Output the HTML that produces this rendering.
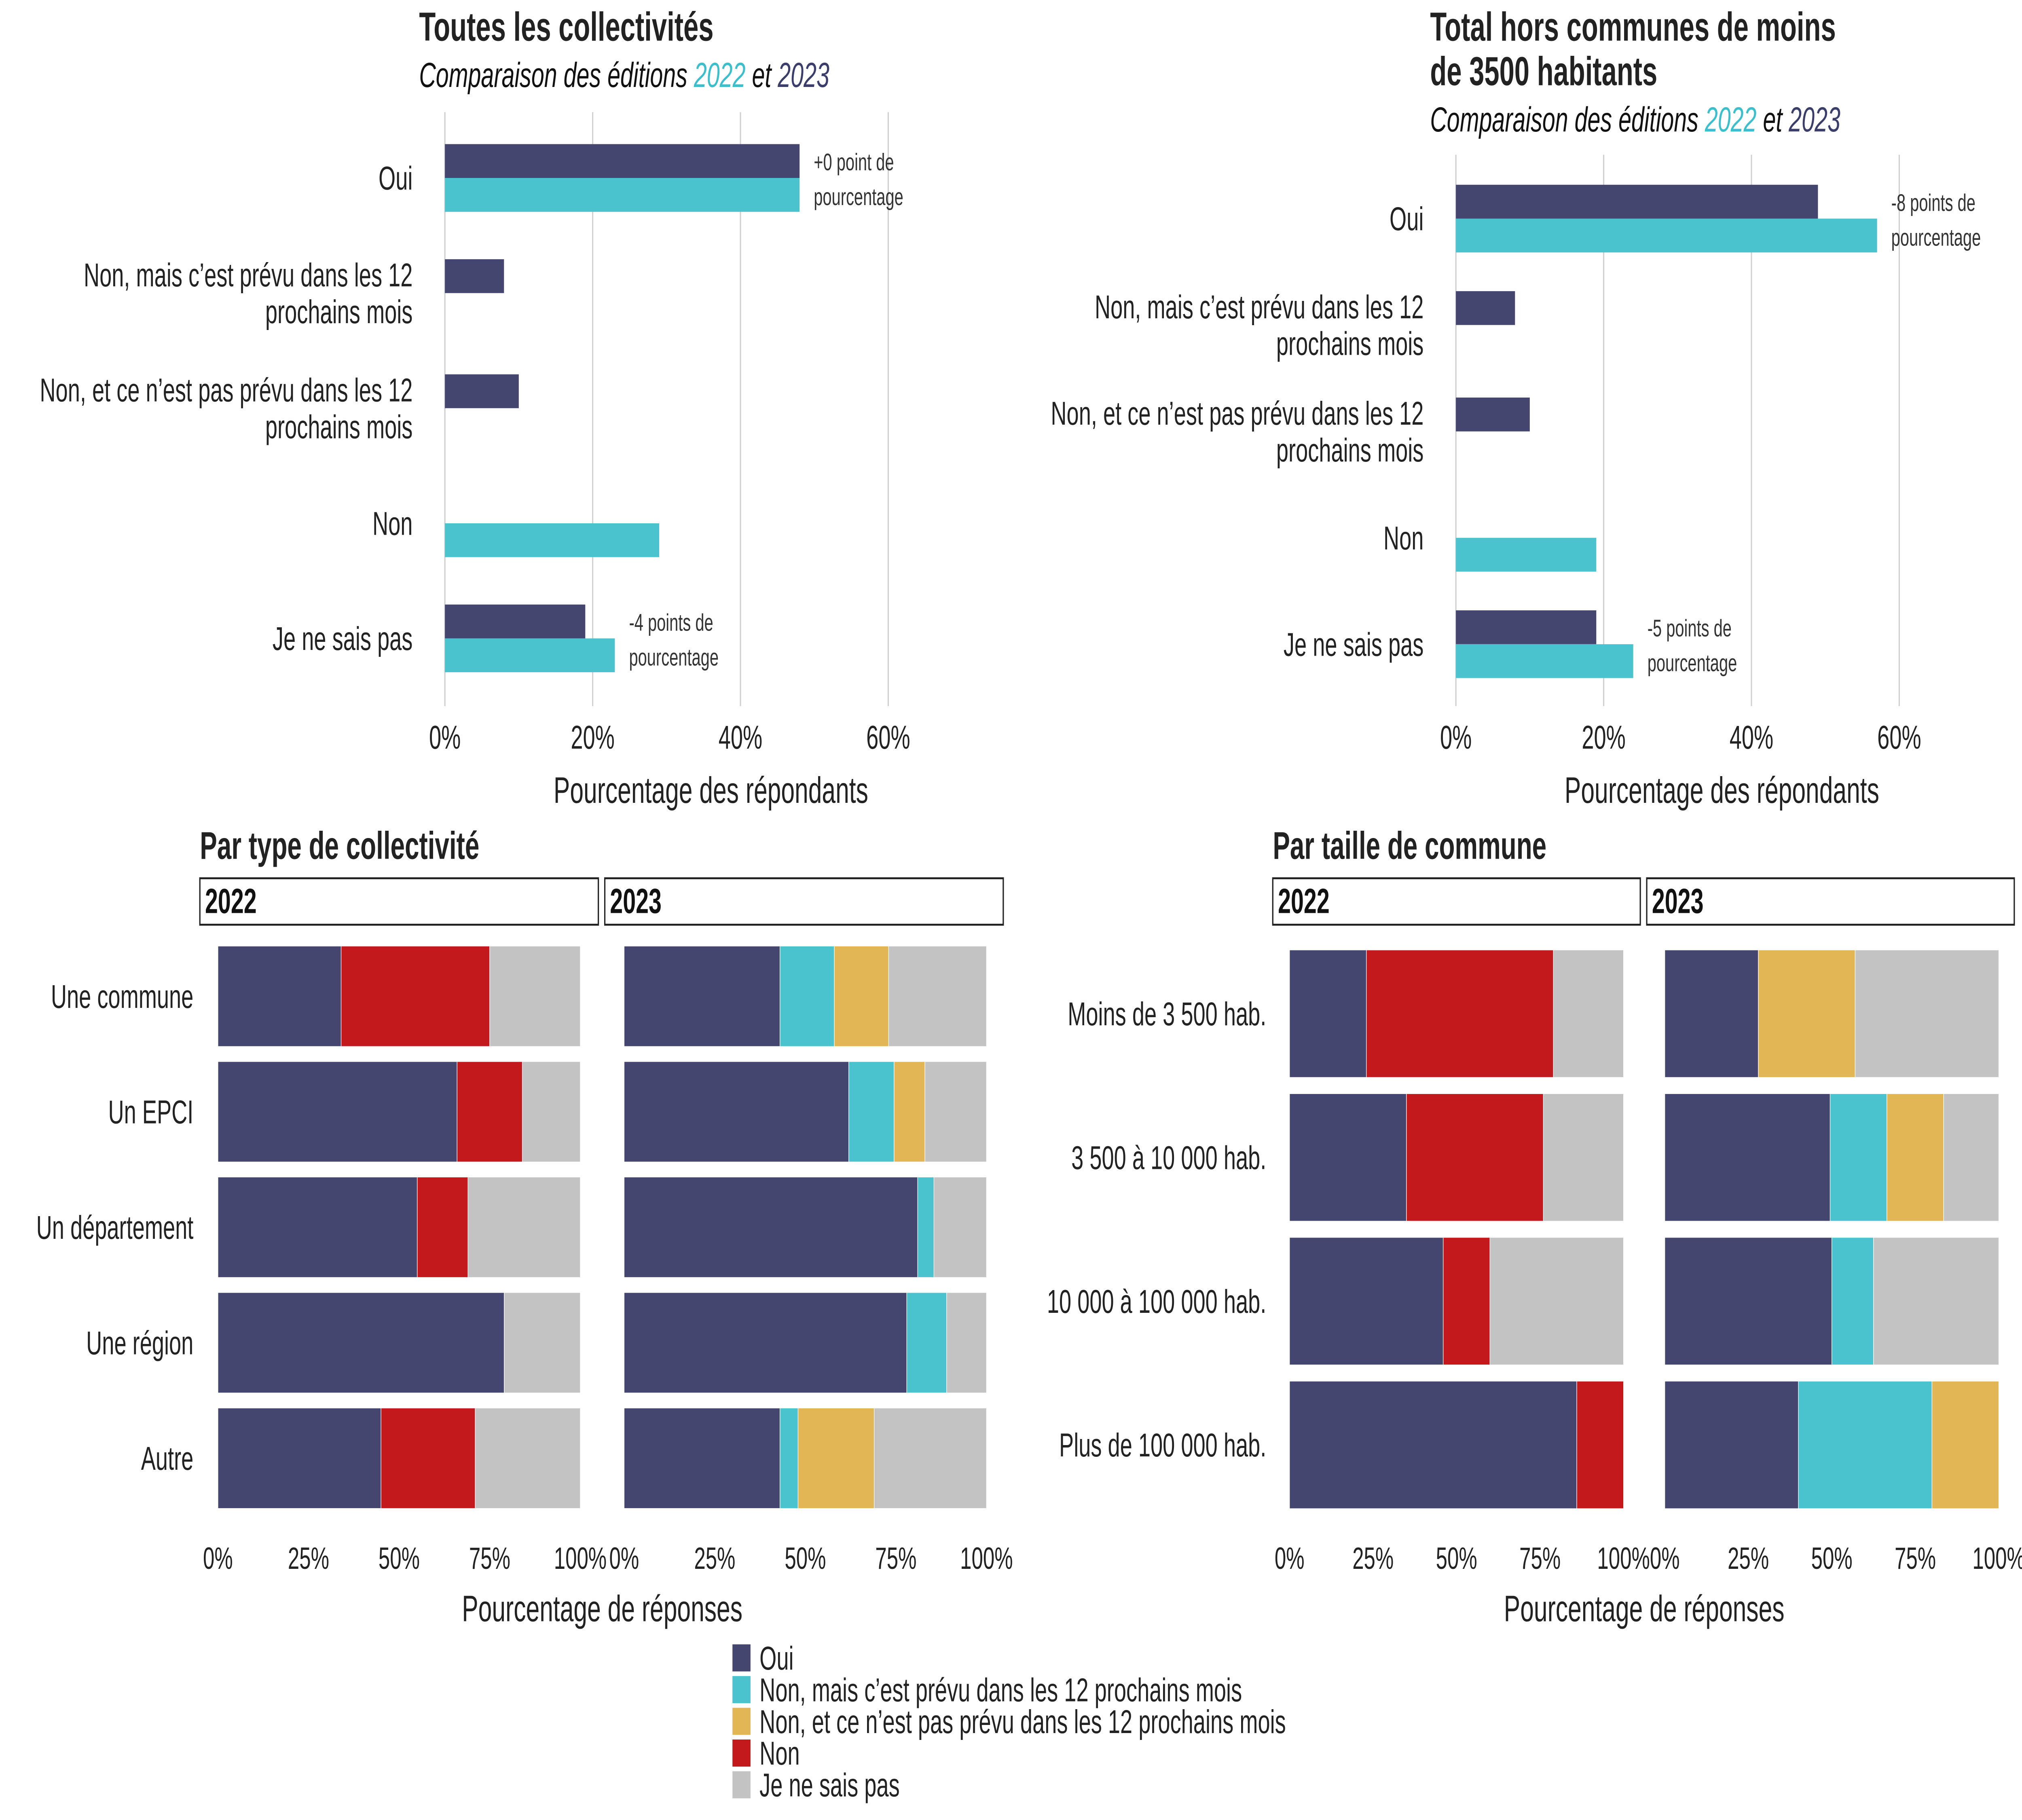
<!DOCTYPE html>
<html><head><meta charset="utf-8"><style>
html,body{margin:0;padding:0;background:#fff;width:100%;height:100%;overflow:hidden;}
svg{display:block;width:100vw;height:100vh;font-family:"Liberation Sans","DejaVu Sans",sans-serif;}
</style></head><body>
<svg id="chart" viewBox="0 0 1568 940.8" preserveAspectRatio="none" xmlns="http://www.w3.org/2000/svg">
<rect width="1568" height="941" fill="#fff"/>
<text x="325" y="21" font-size="21" font-weight="bold" fill="#222">Toutes les collectivités</text>
<text x="325" y="45" font-size="18" font-style="italic" fill="#111">Comparaison des éditions <tspan fill="#3cbfcc">2022</tspan> et <tspan fill="#3b3d6b">2023</tspan></text>
<text x="1109" y="21" font-size="21" font-weight="bold" fill="#222">Total hors communes de moins</text>
<text x="1109" y="44" font-size="21" font-weight="bold" fill="#222">de 3500 habitants</text>
<text x="1109" y="68" font-size="18" font-style="italic" fill="#111">Comparaison des éditions <tspan fill="#3cbfcc">2022</tspan> et <tspan fill="#3b3d6b">2023</tspan></text>
<text x="155" y="444" font-size="20" font-weight="bold" fill="#222">Par type de collectivité</text>
<text x="987" y="444" font-size="20" font-weight="bold" fill="#222">Par taille de commune</text>
<g id="g"></g>
</svg>
<script>
const topCats=["Oui","Non, mais c’est prévu dans les 12|prochains mois","Non, et ce n’est pas prévu dans les 12|prochains mois","Non","Je ne sais pas"];
const topA2023=[48,8,10,null,19];
const topA2022=[48,null,null,29,23];
const topB2023=[49,8,10,null,19];
const topB2022=[57,null,null,19,24];
const topTicks=["0%","20%","40%","60%"];
const typeCats=["Une commune","Un EPCI","Un département","Une région","Autre"];
const tailleCats=["Moins de 3 500 hab.","3 500 à 10 000 hab.","10 000 à 100 000 hab.","Plus de 100 000 hab."];
const seriesNames=["Oui","Non, mais c’est prévu dans les 12 prochains mois","Non, et ce n’est pas prévu dans les 12 prochains mois","Non","Je ne sais pas"];
const type2022=[[34,0,0,41,25],[66,0,0,18,16],[55,0,0,14,31],[79,0,0,0,21],[45,0,0,26,29]];
const type2023=[[43,15,15,0,27],[62,12.5,8.5,0,17],[81,4.5,0,0,14.5],[78,11,0,0,11],[43,5,21,0,31]];
const taille2022=[[23,0,0,56,21],[35,0,0,41,24],[46,0,0,14,40],[86,0,0,14,0]];
const taille2023=[[28,0,29,0,43],[49.5,17,17,0,16.5],[50,12.5,0,0,37.5],[40,40,20,0,0]];
const pctTicks=["0%","25%","50%","75%","100%"];
const colors=["#45466f","#4ac3cf","#e3b655","#c4191c","#c3c3c3"];
const NS="http://www.w3.org/2000/svg";
const G=document.getElementById("g");
function el(t,a,txt){const e=document.createElementNS(NS,t);for(const k in a)e.setAttribute(k,a[k]);if(txt!=null)e.textContent=txt;G.appendChild(e);return e;}

function topChart(x0,pxPer,yTop,yBot,cy0,pitch,d23,d22,notes,key){
  [0,20,40,60].forEach((v,i)=>{
    const x=x0+v*pxPer;
    const l=el("line",{x1:x,x2:x,y1:yTop,y2:yBot,stroke:"#d0d0d0","stroke-width":1});
    
    
    const t=el("text",{x:x,y:yBot+22,"font-size":17,"text-anchor":"middle",fill:"#222"},topTicks[i]);
    
    
  });
  const at=el("text",{x:x0+36*pxPer,y:yBot+50,"font-size":19,"text-anchor":"middle",fill:"#222"},"Pourcentage des répondants");
  
  
  topCats.forEach((c,i)=>{
    const cy=cy0+i*pitch;
    const lines=c.split("|");
    lines.forEach((ln,j)=>{
      const t=el("text",{x:x0-25,y:cy+6+(j-(lines.length-1)/2)*19,"font-size":17,"text-anchor":"end",fill:"#222"},ln);
      
      
    });
    if(d23[i]!=null){const r=el("rect",{x:x0,y:cy-17.5,width:d23[i]*pxPer,height:17.5,fill:colors[0]});
      
      }
    if(d22[i]!=null){const r=el("rect",{x:x0,y:cy,width:d22[i]*pxPer,height:17.5,fill:colors[1]});
      
      }
  });
  notes.forEach(n=>{
    const cy=cy0+n[0]*pitch;
    const mx=Math.max(d23[n[0]]||0,d22[n[0]]||0);
    const x=x0+mx*pxPer+11;
    const t1=el("text",{x:x,y:cy-4,"font-size":12.5,fill:"#333"},n[1]);
    
    
    const t2=el("text",{x:x,y:cy+14,"font-size":12.5,fill:"#333"},"pourcentage");
    
    
  });
}
topChart(345,5.73,58,365,92,59.5,topA2023,topA2022,[[0,"+0 point de"],[4,"-4 points de"]],"all");
topChart(1129,5.73,80,365,113,55,topB2023,topB2022,[[0,"-8 points de"],[4,"-5 points de"]],"hors");

function stacked(panels,cats,rowTop,pitch,h,labelX,strips,key){
  cats.forEach((c,i)=>{
    const t=el("text",{x:labelX,y:rowTop+i*pitch+h/2+6,"font-size":17,"text-anchor":"end",fill:"#222"},c);
    
    
  });
  panels.forEach((p,pi)=>{
    const s=strips[pi];
    const sr=el("rect",{x:s[0],y:454,width:s[1]-s[0],height:24,fill:"#fff",stroke:"#222","stroke-width":1});
    
    
    const st=el("text",{x:s[0]+4,y:472,"font-size":18,"font-weight":"bold",fill:"#111"},p.year);
    
    
    const w=p.x1-p.x0;
    p.data.forEach((row,i)=>{
      let acc=0;
      row.forEach((v,k)=>{
        if(v>0){
          const r=el("rect",{x:p.x0+acc/100*w,y:rowTop+i*pitch,width:v/100*w,height:h,fill:colors[k],stroke:"#fff","stroke-width":0.4});
          
          
        }
        acc+=v;
      });
    });
    pctTicks.forEach((tk,i)=>{
      const t=el("text",{x:p.x0+i*w/4,y:811,"font-size":16,"text-anchor":"middle",fill:"#222"},tk);
      
      
    });
  });
  const mid=(panels[0].x0+panels[1].x1)/2;
  const at=el("text",{x:mid,y:838,"font-size":19,"text-anchor":"middle",fill:"#222"},"Pourcentage de réponses");
  
  
}
stacked([{year:"2022",x0:169,x1:450,data:type2022},{year:"2023",x0:484,x1:765,data:type2023}],typeCats,489,59.7,52,150,[[155,464],[469,778]],"type");
stacked([{year:"2022",x0:1000,x1:1259,data:taille2022},{year:"2023",x0:1291,x1:1550,data:taille2023}],tailleCats,491,74.3,66,982,[[987,1272],[1277,1562]],"taille");

seriesNames.forEach((n,i)=>{
  const y=850+i*16.4;
  const r=el("rect",{x:568,y:y,width:14,height:14,fill:colors[i]});
  
  
  const t=el("text",{x:589,y:y+13,"font-size":17,fill:"#222"},n);
  
  
});
</script>
</body></html>
